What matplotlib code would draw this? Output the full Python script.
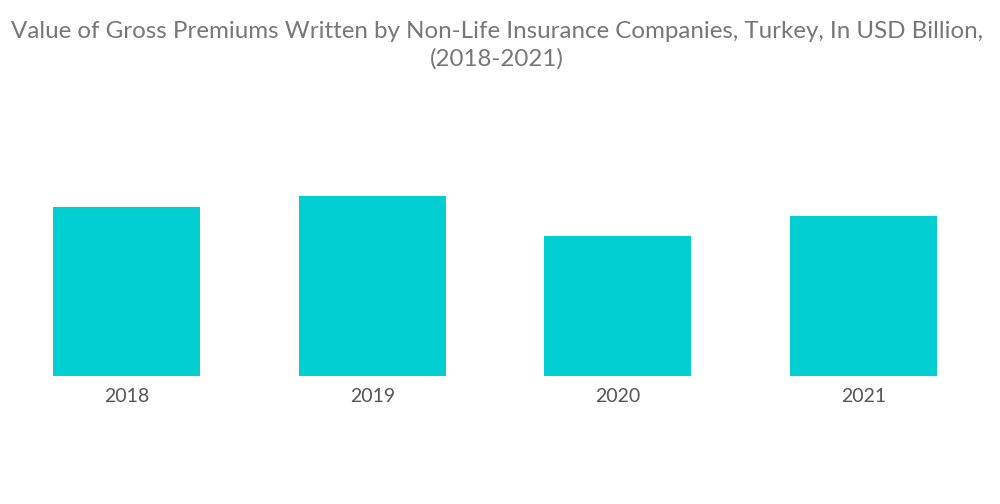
import matplotlib.pyplot as plt

years = ["2018", "2019", "2020", "2021"]
premiums = [8.45, 9.0, 7.0, 8.0]

plt.rcParams['font.family'] = ['Lato', 'DejaVu Sans']

fig = plt.figure(figsize=(10, 5.04), dpi=100)
ax = fig.add_axes([0.004, 1 - 376 / 504, 0.982, 276 / 504])

ax.bar(range(len(years)), premiums, width=0.6, color="#00CED1")
ax.set_xlim(-0.5, 3.5)
ax.set_ylim(0, 13.8)
ax.set_xticks(range(len(years)))
ax.set_xticklabels(years, fontsize=14, color="#555555")
ax.tick_params(axis="x", length=0, pad=9)
ax.set_yticks([])
for s in ax.spines.values():
    s.set_visible(False)

fig.text(0.497, 0.958,
         "Value of Gross Premiums Written by Non-Life Insurance Companies, Turkey, In USD Billion,\n(2018-2021)",
         ha="center", va="top", fontsize=17.4, color="#777777", linespacing=1.35)

fig.savefig("out.png", dpi=100)
